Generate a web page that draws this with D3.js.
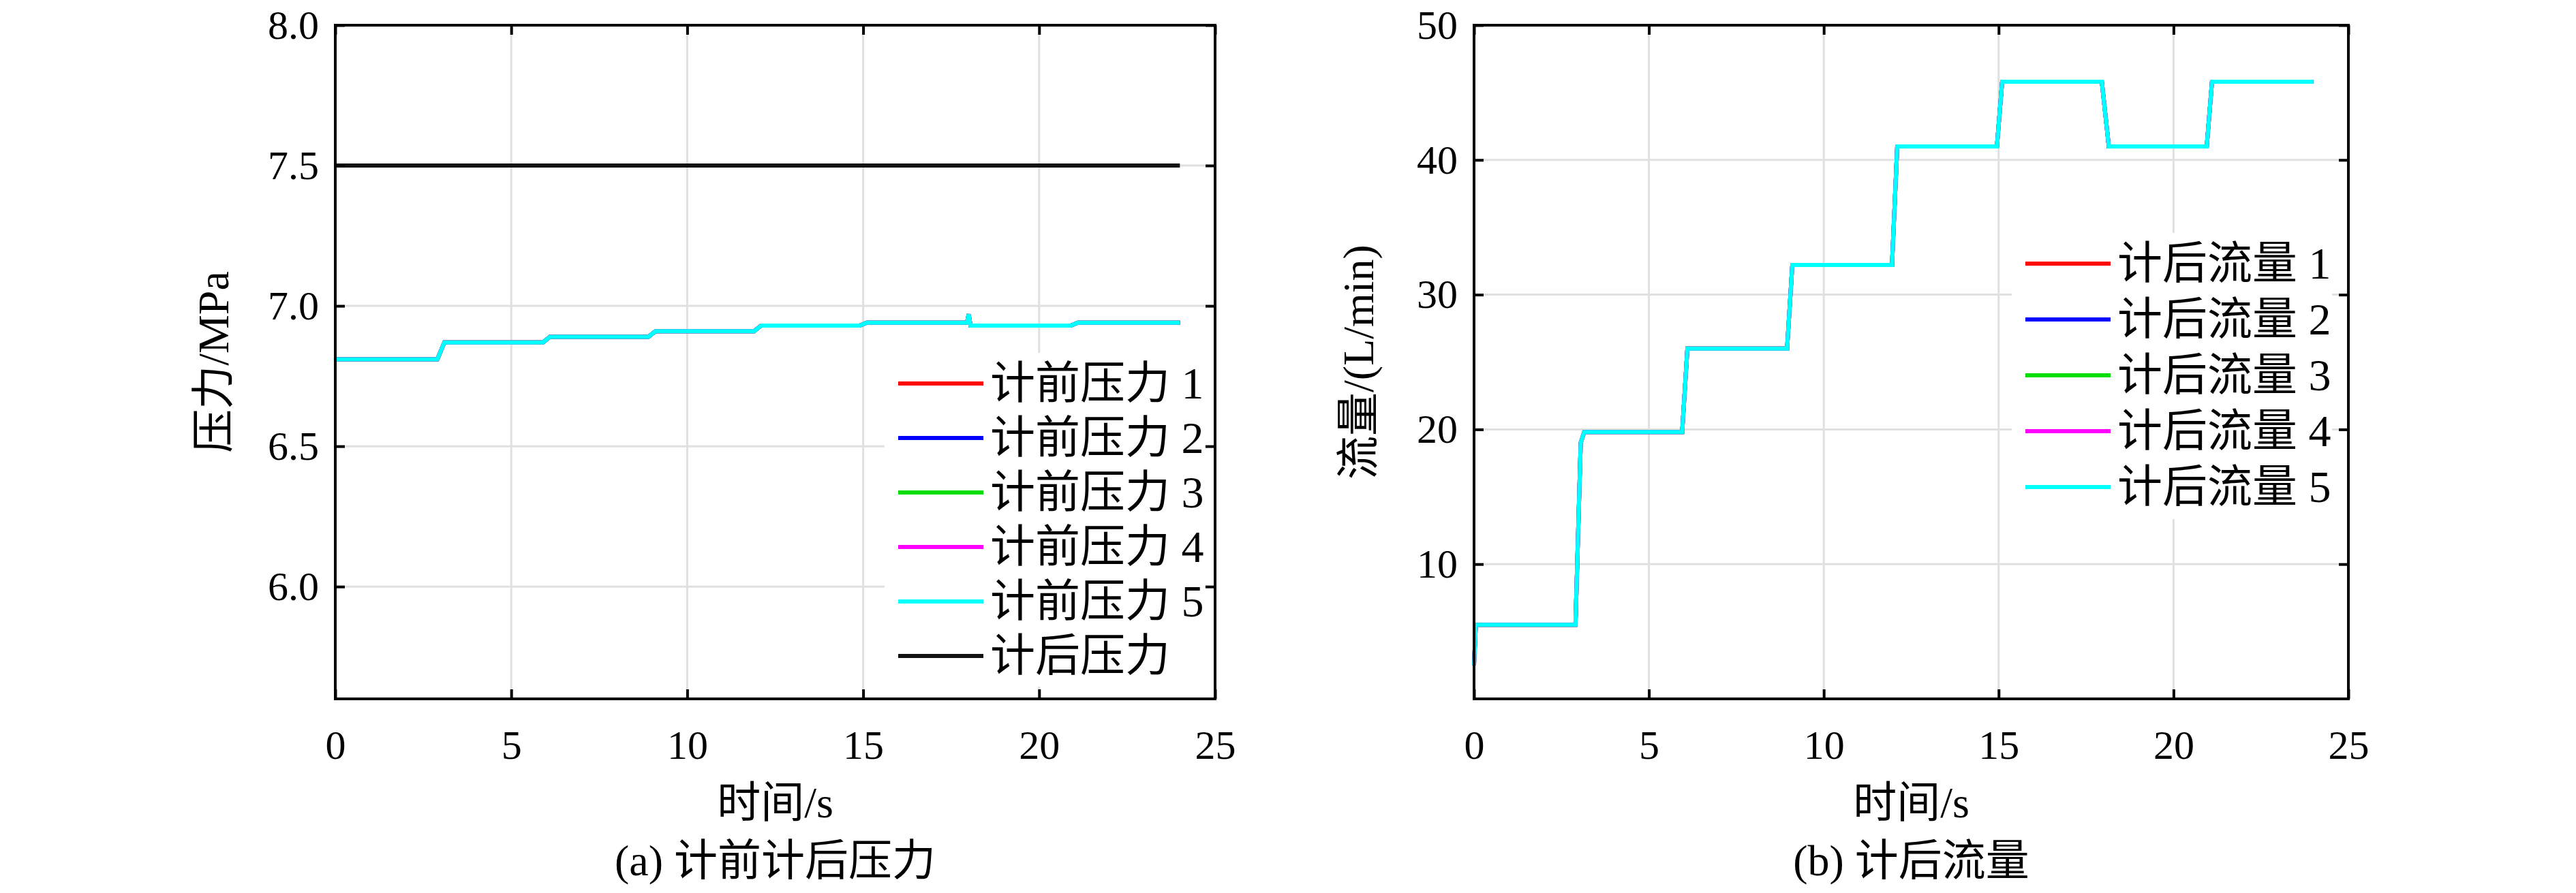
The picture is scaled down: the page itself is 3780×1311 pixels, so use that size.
<!DOCTYPE html>
<meta charset="utf-8">
<head>
<script src="https://d3js.org/d3.v7.min.js"></script>
<style>body{margin:0;background:#fff}text{font-family:"Liberation Serif","Noto Sans CJK SC",serif}</style>
</head>
<body>
<svg id="chart" width="3780" height="1311"></svg>
<script>
// shared time breakpoints (s)
var timeA = [0, 2.9, 3.1, 5.9, 6.1, 8.9, 9.1, 11.9, 12.1, 14.9, 15.1, 17.95, 18.0, 18.05, 18.2, 20.9, 21.1, 24];
var preBefore = [6.81, 6.81, 6.87, 6.87, 6.89, 6.89, 6.91, 6.91, 6.93, 6.93, 6.94, 6.94, 6.97, 6.93, 6.93, 6.93, 6.94, 6.94];
var preAfter = [7.5, 7.5];
var timeAfter = [0, 24];
var timeB = [0, 0.05, 2.9, 3.05, 3.15, 5.95, 6.1, 8.95, 9.1, 11.95, 12.1, 14.95, 15.1, 17.95, 18.15, 20.95, 21.1, 24];
var flowB = [2.5, 5.5, 5.5, 19.0, 19.8, 19.8, 26, 26, 32.2, 32.2, 41, 41, 45.8, 45.8, 41, 41, 45.8, 45.8];
var colors = ["#ff0000", "#0000ff", "#00dd00", "#ff00ff", "#00ffff"];
var xTicks = [0, 5, 10, 15, 20, 25];

var svg = d3.select("#chart");

function panel(o) {
  var g = svg.append("g");
  var x = d3.scaleLinear().domain([0, 25]).range([o.x0, o.x1]);
  var y = d3.scaleLinear().domain(o.yDom).range([o.y1, o.y0]);
  // grid
  g.selectAll(".gx").data(xTicks.slice(1, -1)).join("line")
    .attr("x1", d => x(d)).attr("x2", d => x(d)).attr("y1", o.y0).attr("y2", o.y1)
    .attr("stroke", "#e0e0e0").attr("stroke-width", 3);
  g.selectAll(".gy").data(o.yTicks.filter(d => d < o.yDom[1])).join("line")
    .attr("x1", o.x0).attr("x2", o.x1).attr("y1", d => y(d)).attr("y2", d => y(d))
    .attr("stroke", "#e0e0e0").attr("stroke-width", 3);
  var line = d3.line().x(d => x(d[0])).y(d => y(d[1]));
  o.series.forEach(function (s) {
    g.append("path").datum(d3.zip(s.t, s.v)).attr("d", line)
      .attr("fill", "none").attr("stroke", s.c).attr("stroke-width", 6);
  });
  // legend (white box hides grid)
  var lg = g.append("g");
  lg.append("rect").attr("x", o.lx - 20).attr("y", o.ly - 45).attr("width", o.lw)
    .attr("height", o.legend.length * o.ls + 10).attr("fill", "#fff");
  o.legend.forEach(function (l, i) {
    var yy = o.ly + i * o.ls;
    lg.append("line").attr("x1", o.lx).attr("x2", o.lx + 125).attr("y1", yy).attr("y2", yy)
      .attr("stroke", l.c).attr("stroke-width", 6);
    lg.append("text").attr("x", o.lx + 135).attr("y", yy + 22).attr("font-size", 66).text(l.name);
  });
  // axes with inward ticks
  var fs = 60;
  g.append("g").attr("transform", "translate(0," + o.y1 + ")")
    .call(d3.axisBottom(x).tickValues(xTicks).tickSize(-14).tickPadding(45).tickFormat(d3.format("d")))
    .call(a => a.select(".domain").remove()).selectAll("text").attr("font-size", fs).attr("fill", "#000");
  g.append("g").attr("transform", "translate(0," + o.y0 + ")")
    .call(d3.axisTop(x).tickValues(xTicks).tickSize(-14).tickFormat(""))
    .call(a => a.select(".domain").remove());
  g.append("g").attr("transform", "translate(" + o.x0 + ",0)")
    .call(d3.axisLeft(y).tickValues(o.yTicks).tickSize(-14).tickPadding(24).tickFormat(d3.format(o.fmt)))
    .call(a => a.select(".domain").remove()).selectAll("text").attr("font-size", fs).attr("fill", "#000");
  g.append("g").attr("transform", "translate(" + o.x1 + ",0)")
    .call(d3.axisRight(y).tickValues(o.yTicks).tickSize(-14).tickFormat(""))
    .call(a => a.select(".domain").remove());
  g.selectAll(".tick line").attr("stroke", "#000").attr("stroke-width", 4);
  g.append("rect").attr("x", o.x0).attr("y", o.y0).attr("width", o.x1 - o.x0).attr("height", o.y1 - o.y0)
    .attr("fill", "none").attr("stroke", "#000").attr("stroke-width", 4);
  var cx = (o.x0 + o.x1) / 2;
  g.append("text").attr("x", cx).attr("y", 1200).attr("text-anchor", "middle").attr("font-size", 64).text("时间/s");
  g.append("text").attr("x", cx).attr("y", 1285).attr("text-anchor", "middle").attr("font-size", 64).text(o.caption);
  g.append("text").attr("transform", "translate(" + o.ylx + "," + (o.y0 + o.y1) / 2 + ") rotate(-90)")
    .attr("text-anchor", "middle").attr("font-size", 64).text(o.ylabel);
}

var leftSeries = colors.map(c => ({ t: timeA, v: preBefore, c: c }));
leftSeries.push({ t: timeAfter, v: preAfter, c: "#111" });
panel({
  x0: 492, x1: 1783, y0: 37, y1: 1026, yDom: [5.6, 8.0], yTicks: [6.0, 6.5, 7.0, 7.5, 8.0], fmt: ".1f",
  series: leftSeries,
  legend: [1, 2, 3, 4, 5].map((n, i) => ({ name: "计前压力 " + n, c: colors[i] })).concat([{ name: "计后压力", c: "#111" }]),
  lx: 1318, ly: 563, ls: 80, lw: 470, ylx: 335, ylabel: "压力/MPa", caption: "(a) 计前计后压力"
});
panel({
  x0: 2163, x1: 3446, y0: 37, y1: 1026, yDom: [0, 50], yTicks: [10, 20, 30, 40, 50], fmt: "d",
  series: colors.map(c => ({ t: timeB, v: flowB, c: c })),
  legend: [1, 2, 3, 4, 5].map((n, i) => ({ name: "计后流量 " + n, c: colors[i] })),
  lx: 2972, ly: 387, ls: 82, lw: 470, ylx: 2015, ylabel: "流量/(L/min)", caption: "(b) 计后流量"
});
</script>
</body>
